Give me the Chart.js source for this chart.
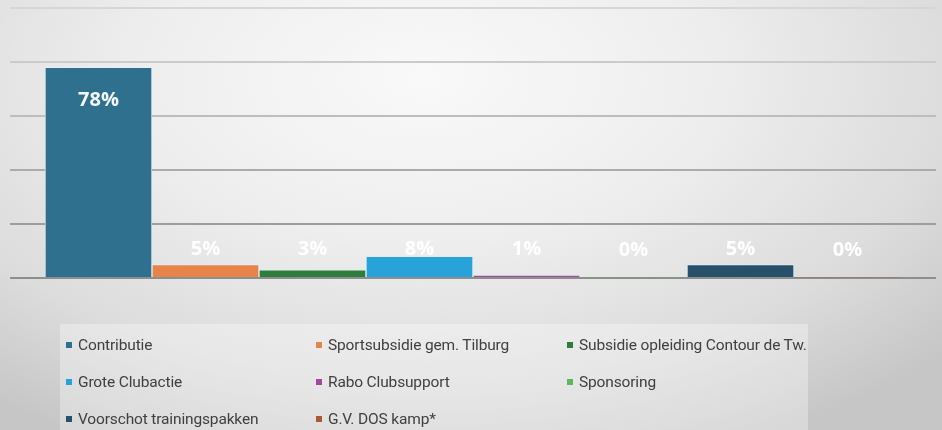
<!DOCTYPE html>
<html>
<head>
<meta charset="utf-8">
<script src="https://cdn.jsdelivr.net/npm/chart.js@4"></script>
<style>
  html, body { margin: 0; padding: 0; }
  #wrap {
    position: relative;
    width: 942px;
    height: 430px;
    overflow: hidden;
    background: radial-gradient(ellipse 75% 95% at 45% 18%, #f9f9f9 0%, #eeeeee 40%, #dcdcdc 75%, #c6c6c6 100%);
  }
  #chart { position: absolute; left: 0; top: 0; }
  #legend {
    position: absolute;
    left: 60px;
    top: 324px;
    width: 748px;
    height: 120px;
    background: rgba(255, 255, 255, 0.32);
    display: grid;
    grid-template-columns: 250px 251px auto;
    grid-auto-rows: 37px;
    padding: 2px 0 0 6px;
    box-sizing: border-box;
    font-family: Roboto, "Noto Sans", sans-serif;
    font-size: 15.5px;
    color: #404040;
    letter-spacing: -0.15px;
  }
  .item { display: flex; align-items: center; white-space: nowrap; }
  .sw { width: 6px; height: 6px; margin-right: 6px; flex: none; }
</style>
</head>
<body>
<div id="wrap">
  <canvas id="chart" width="942" height="430"></canvas>
  <div id="legend"></div>
</div>
<script>
const categories = [
  "Contributie",
  "Sportsubsidie gem. Tilburg",
  "Subsidie opleiding Contour de Tw.",
  "Grote Clubactie",
  "Rabo Clubsupport",
  "Sponsoring",
  "Voorschot trainingspakken",
  "G.V. DOS kamp*",
];
const values = [78, 5, 3, 8, 1, 0, 5, 0];
const labels = ["78%", "5%", "3%", "8%", "1%", "0%", "5%", "0%"];
const colors = ["#30708f", "#e8834a", "#2f7d3b", "#27a3d9", "#a4479e", "#5cb85c", "#27516a", "#a85a32"];

const gridColors = { 100: "#d6d6d6", 80: "#cbcbcb", 60: "#bdbdbd", 40: "#ababab", 20: "#9d9d9d", 0: "#8e8e8e" };

const valueLabels = {
  id: "valueLabels",
  afterDatasetsDraw(chart) {
    const ctx = chart.ctx;
    const meta = chart.getDatasetMeta(0);
    ctx.save();
    ctx.textAlign = "center";
    ctx.textBaseline = "middle";
    meta.data.forEach((bar, i) => {
      const y = Math.min(bar.y + 33, bar.base - 28);
      ctx.font = "bold 20px 'Open Sans', Roboto, sans-serif";
      ctx.fillStyle = "rgba(255,255,255,0.95)";
      ctx.fillText(labels[i], bar.x, y);
    });
    ctx.restore();
  },
};

const chart = new Chart(document.getElementById("chart"), {
  type: "bar",
  data: {
    datasets: [
      {
        data: values.map((v, i) => ({ x: i, y: v })),
        backgroundColor: colors,
        borderColor: "rgba(225,240,248,0.85)",
        borderWidth: (c) => (c.raw && c.raw.y > 0 ? 1 : 0),
        barThickness: "flex",
        barPercentage: 1,
        categoryPercentage: 1,
      },
    ],
  },
  options: {
    responsive: false,
    animation: false,
    layout: { padding: { left: 10, right: 6, top: 8, bottom: 152 } },
    plugins: { legend: { display: false }, tooltip: { enabled: false } },
    scales: {
      x: {
        type: "linear",
        offset: false,
        min: -0.827,
        max: 7.827,
        display: false,
      },
      y: {
        min: 0,
        max: 100,
        ticks: { display: false, stepSize: 20 },
        border: { display: false },
        grid: {
          drawTicks: false,
          lineWidth: 2,
          color: (c) => gridColors[c.tick.value] || "#bbbbbb",
        },
      },
    },
  },
  plugins: [valueLabels],
});

const legend = document.getElementById("legend");
categories.forEach((name, i) => {
  const item = document.createElement("div");
  item.className = "item";
  item.innerHTML = '<span class="sw" style="background:' + colors[i] + '"></span>' + name;
  legend.appendChild(item);
});
</script>
</body>
</html>
